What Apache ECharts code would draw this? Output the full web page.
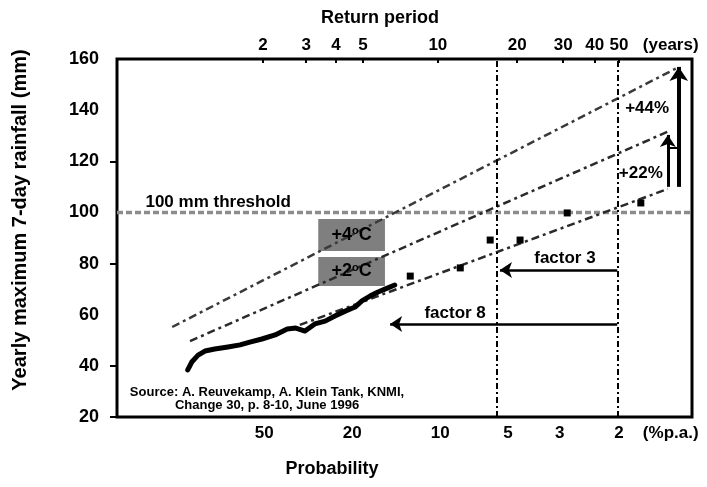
<!DOCTYPE html>
<html>
<head>
<meta charset="utf-8">
<script src="https://cdn.jsdelivr.net/npm/echarts@6/dist/echarts.min.js"></script>
<style>html,body{margin:0;padding:0;background:#fff}#c{width:707px;height:487px}</style>
</head>
<body>
<div id="c"></div>
<script>
// ---- data (x = position along probability axis, 0..100 ; y = rainfall mm) ----
const topTickPos = [25.4, 32.9, 38.1, 42.8, 55.8, 69.6, 77.6, 83.1, 87.3, 96.3];
const topTickLabels = ['2', '3', '4', '5', '10', '20', '30', '40', '50', '(years)'];
const bottomTickPos = [25.6, 40.9, 56.2, 68.0, 77.0, 87.3, 96.3];
const bottomTickLabels = ['50', '20', '10', '5', '3', '2', '(%p.a.)'];
const yTicksMinor = [20, 40, 80, 120];

const obsX = [12.3, 13.0, 14.1, 15.3, 17.0, 19.3, 21.4, 23.1, 25.2, 27.5, 29.6, 31.1, 32.7, 34.4, 36.2, 37.9, 39.7, 41.4, 42.6, 44.0, 45.4, 46.6, 48.3];
const obsY = [38.4, 41.5, 44.2, 45.8, 46.6, 47.4, 48.2, 49.3, 50.5, 52.1, 54.4, 54.8, 53.6, 56.4, 57.5, 59.5, 61.4, 63.0, 65.4, 67.3, 68.9, 70.0, 71.6];
const extremeX = [51.0, 59.7, 64.9, 70.1, 78.3, 91.1];
const extremeY = [75.1, 78.3, 89.2, 89.2, 99.8, 103.7];

const fitNowX = [31.8, 95.8];
const fitNowY = [56.0, 109.2];
const fit2X = [12.7, 95.7];
const fit2Y = [49.7, 131.5];
const fit4X = [9.6, 97.4];
const fit4Y = [55.2, 156.5];

const thresholdValue = 100;
const returnLines = [66.1, 87.0];          // 20-year / 50-year verticals
const factor3 = {y: 77.5, from: 87.0, to: 66.6};
const factor8 = {y: 56.4, from: 87.0, to: 47.5};
const rise = {x44: 97.7, x22: 95.8, base: 110, top44: 156.9, top22: 130.3, bar: 125.2};
const boxes = [
  {x0: 35.0, x1: 46.6, y0: 84.9, y1: 97.4, t: '+4'},
  {x0: 35.0, x1: 46.6, y0: 71.2, y1: 82.6, t: '+2'}
];
const notes = [
  {x: 17.6, y: 104.1, t: '100 mm threshold'},
  {x: 77.9, y: 82.2, t: 'factor 3'},
  {x: 58.8, y: 60.7, t: 'factor 8'},
  {x: 92.2, y: 140.8, t: '+44%'},
  {x: 91.1, y: 115.4, t: '+22%'}
];

// ---- chart ----
const FONT = 'Liberation Sans';
const chart = echarts.init(document.getElementById('c'));
const zip = (a, b) => a.map((v, i) => [v, b[i]]);
const lbl = (pos, labels) => (v) => {
  let best = 0;
  pos.forEach((p, i) => { if (Math.abs(p - v) < Math.abs(pos[best] - v)) best = i; });
  return labels[best];
};
const dashDot = [8, 4, 3, 4];

chart.setOption({
  animation: false,
  backgroundColor: '#fff',
  textStyle: {fontFamily: FONT},
  grid: {left: 117, right: 15, top: 59, bottom: 70, show: true, borderColor: '#000', borderWidth: 3},
  xAxis: [
    {type: 'value', min: 0, max: 100, position: 'bottom',
     axisLine: {show: false}, splitLine: {show: false}, axisTick: {show: false},
     axisLabel: {customValues: bottomTickPos, formatter: lbl(bottomTickPos, bottomTickLabels),
                 color: '#000', fontWeight: 'bold', fontSize: 17, fontFamily: FONT, margin: 8}},
    {type: 'value', min: 0, max: 100, position: 'top',
     axisLine: {show: false}, splitLine: {show: false},
     axisTick: {show: true, inside: true, length: 4, customValues: topTickPos.slice(0, 9), lineStyle: {color: '#000', width: 2}},
     axisLabel: {customValues: topTickPos, formatter: lbl(topTickPos, topTickLabels),
                 color: '#000', fontWeight: 'bold', fontSize: 17, fontFamily: FONT, margin: 5}}
  ],
  yAxis: {type: 'value', min: 20, max: 160, interval: 20,
    axisLine: {show: false}, splitLine: {show: false},
    axisTick: {show: true, length: 7, customValues: yTicksMinor, lineStyle: {color: '#000', width: 2}},
    axisLabel: {color: '#000', fontWeight: 'bold', fontSize: 18, fontFamily: FONT, margin: 18}},
  graphic: [
    {type: 'text', x: 380, y: 18, style: {text: 'Return period', font: 'bold 18px "Liberation Sans"', fill: '#000', textAlign: 'center', textVerticalAlign: 'middle'}},
    {type: 'text', x: 332, y: 469, style: {text: 'Probability', font: 'bold 18px "Liberation Sans"', fill: '#000', textAlign: 'center', textVerticalAlign: 'middle'}},
    {type: 'text', x: 20, y: 220, rotation: Math.PI / 2, style: {text: 'Yearly maximum 7-day rainfall (mm)', font: 'bold 20px "Liberation Sans"', fill: '#000', textAlign: 'center', textVerticalAlign: 'middle'}},
    {type: 'text', x: 267, y: 399, style: {text: 'Source: A. Reuvekamp, A. Klein Tank, KNMI,\nChange 30, p. 8-10, June 1996', font: 'bold 13px "Liberation Sans"', fill: '#000', textAlign: 'center', textVerticalAlign: 'middle', lineHeight: 13}}
  ],
  series: [
    {type: 'line', data: [[0, thresholdValue], [100, thresholdValue]], symbol: 'none', z: 1,
     lineStyle: {color: '#8c8c8c', width: 3.5, type: [6, 3]}},
    {type: 'line', data: zip(fit4X, fit4Y), symbol: 'none', z: 2, lineStyle: {color: '#3a3a3a', width: 2.5, type: dashDot}},
    {type: 'line', data: zip(fit2X, fit2Y), symbol: 'none', z: 2, lineStyle: {color: '#2a2a2a', width: 2.5, type: dashDot}},
    {type: 'line', data: zip(fitNowX, fitNowY), symbol: 'none', z: 2, lineStyle: {color: '#2a2a2a', width: 2.5, type: dashDot}},
    {type: 'line', data: zip(obsX, obsY), symbol: 'none', z: 3, lineStyle: {color: '#000', width: 5, join: 'round', cap: 'round'}},
    {type: 'scatter', data: zip(extremeX, extremeY), symbol: 'rect', symbolSize: 7, z: 3, itemStyle: {color: '#000', opacity: 1}},
    {type: 'line', data: [], z: 4,
     markArea: {silent: true,
       itemStyle: {color: '#7f7f7f', opacity: 1},
       label: {show: false},
       data: boxes.map(b => [{coord: [b.x0, b.y1]}, {coord: [b.x1, b.y0]}])},
     markLine: {silent: true, symbol: ['none', 'none'], label: {show: false},
       data: [
         ...returnLines.map(x => ({xAxis: x, lineStyle: {color: '#000', width: 2, type: [6, 3, 2, 3]}})),
         [{coord: [factor3.from, factor3.y], symbol: 'none'}, {coord: [factor3.to, factor3.y], symbol: 'arrow', symbolSize: 12, lineStyle: {color: '#000', width: 2.5, type: 'solid'}}],
         [{coord: [factor8.from, factor8.y], symbol: 'none'}, {coord: [factor8.to, factor8.y], symbol: 'arrow', symbolSize: 12, lineStyle: {color: '#000', width: 2.5, type: 'solid'}}],
         [{coord: [rise.x44, rise.base], symbol: 'none'}, {coord: [rise.x44, rise.top44], symbol: 'arrow', symbolSize: 14, lineStyle: {color: '#000', width: 4, type: 'solid'}}],
         [{coord: [rise.x22, rise.base], symbol: 'none'}, {coord: [rise.x22, rise.top22], symbol: 'arrow', symbolSize: 12, lineStyle: {color: '#000', width: 3, type: 'solid'}}],
         [{coord: [rise.x22, rise.bar], symbol: 'none'}, {coord: [rise.x44, rise.bar], symbol: 'none', lineStyle: {color: '#000', width: 2, type: 'solid'}}]
       ]},
     markPoint: {silent: true, symbol: 'circle', symbolSize: 0,
       label: {show: true, position: 'inside', color: '#000', fontFamily: FONT, fontWeight: 'bold', fontSize: 17},
       data: notes.map(n => ({coord: [n.x, n.y], value: n.t, label: {formatter: n.t}})).concat(
         boxes.map(b => ({coord: [(b.x0 + b.x1) / 2, (b.y0 + b.y1) / 2], value: b.t,
           label: {formatter: '{a|' + b.t + '}{s|o}{a|C}',
             rich: {a: {fontSize: 18, color: '#000', fontWeight: 'bold', fontFamily: FONT},
                    s: {fontSize: 11, color: '#000', fontWeight: 'bold', fontFamily: FONT, verticalAlign: 'top', padding: [0, 0, 8, 0]}}}})))}
    }
  ]
});
</script>
</body>
</html>
